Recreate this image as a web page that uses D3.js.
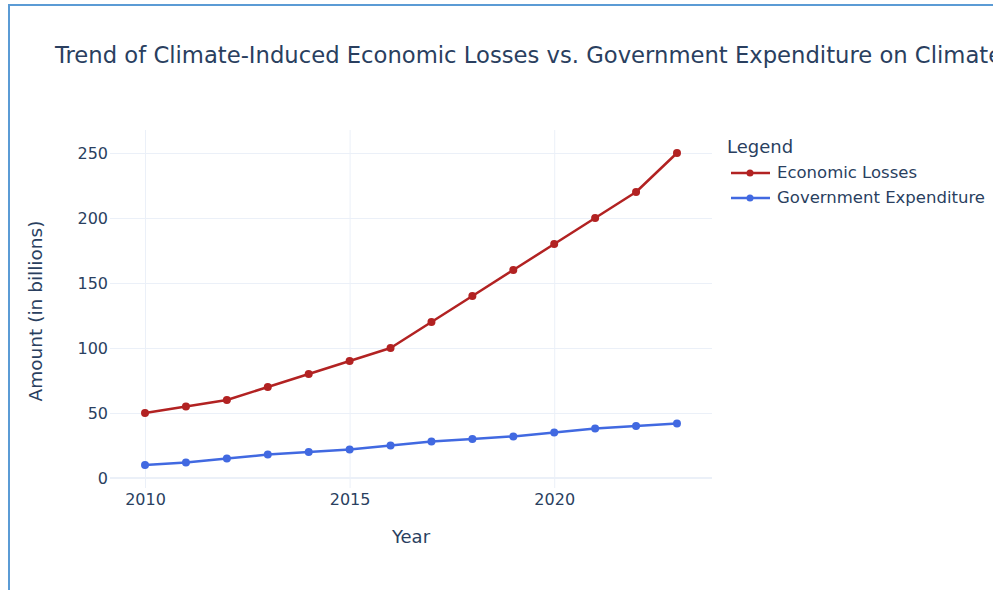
<!DOCTYPE html>
<html>
<head>
<meta charset="utf-8">
<script src="https://cdn.jsdelivr.net/npm/d3@7"></script>
<style>
  html, body { margin: 0; padding: 0; background: #fff; overflow: hidden; }
  svg { display: block; }
</style>
</head>
<body>
<svg id="chart" width="993" height="590"></svg>
<script>
// Annual figures, in billions
const years = [2010, 2011, 2012, 2013, 2014, 2015, 2016, 2017, 2018, 2019, 2020, 2021, 2022, 2023];
const economicLosses = [50, 55, 60, 70, 80, 90, 100, 120, 140, 160, 180, 200, 220, 250];
const governmentExpenditure = [10, 12, 15, 18, 20, 22, 25, 28, 30, 32, 35, 38, 40, 42];
const xTicks = [2010, 2015, 2020];
const yTicks = [0, 50, 100, 150, 200, 250];
const seriesNames = ["Economic Losses", "Government Expenditure"];
const seriesColors = ["#b22222", "#4169e1"];

const FONT = "'DejaVu Sans', Verdana, sans-serif";
const TEXT = "#2a3f5f";
const GRID = "#ebf0f8";

const svg = d3.select("#chart");
const plot = { left: 110, right: 712, top: 130, bottom: 488 };

// Frame around the figure
svg.append("rect")
  .attr("x", 9).attr("y", 5)
  .attr("width", 1200).attr("height", 800)
  .attr("fill", "none")
  .attr("stroke", "#5b9bd5")
  .attr("stroke-width", 2);

const x = d3.scaleLinear().domain([2009.144, 2023.856]).range([plot.left, plot.right]);
const y = d3.scaleLinear().domain([-7.7, 267.7]).range([plot.bottom, plot.top]);

// Gridlines
const xGrid = d3.axisBottom(x).tickValues(xTicks).tickSize(-(plot.bottom - plot.top)).tickFormat("");
svg.append("g").attr("transform", `translate(0,${plot.bottom})`).call(xGrid)
  .call(g => g.select(".domain").remove())
  .call(g => g.selectAll("line").attr("stroke", GRID).attr("stroke-width", 1));

const yGrid = d3.axisLeft(y).tickValues(yTicks.filter(v => v !== 0)).tickSize(-(plot.right - plot.left)).tickFormat("");
svg.append("g").attr("transform", `translate(${plot.left},0)`).call(yGrid)
  .call(g => g.select(".domain").remove())
  .call(g => g.selectAll("line").attr("stroke", GRID).attr("stroke-width", 1));

// Zero line
svg.append("line")
  .attr("x1", plot.left).attr("x2", plot.right)
  .attr("y1", y(0)).attr("y2", y(0))
  .attr("stroke", GRID).attr("stroke-width", 2);

// Tick labels
const xAxis = d3.axisBottom(x).tickValues(xTicks).tickSize(0).tickPadding(6).tickFormat(d3.format("d"));
svg.append("g").attr("transform", `translate(0,${plot.bottom})`).call(xAxis)
  .call(g => g.select(".domain").remove())
  .call(g => g.selectAll("text").attr("fill", TEXT).style("font-family", FONT).style("font-size", "16px"));

const yAxis = d3.axisLeft(y).tickValues(yTicks).tickSize(0).tickPadding(2).tickFormat(d3.format("d"));
svg.append("g").attr("transform", `translate(${plot.left},0)`).call(yAxis)
  .call(g => g.select(".domain").remove())
  .call(g => g.selectAll("text").attr("fill", TEXT).style("font-family", FONT).style("font-size", "16px"));

// Axis titles
svg.append("text")
  .attr("x", (plot.left + plot.right) / 2).attr("y", 543)
  .attr("text-anchor", "middle")
  .attr("fill", TEXT).style("font-family", FONT).style("font-size", "18px")
  .text("Year");

svg.append("text")
  .attr("transform", `translate(42,311) rotate(-90)`)
  .attr("text-anchor", "middle")
  .attr("fill", TEXT).style("font-family", FONT).style("font-size", "18.5px")
  .text("Amount (in billions)");

// Title
svg.append("text")
  .attr("x", 55).attr("y", 63)
  .attr("fill", TEXT).style("font-family", FONT).style("font-size", "22.7px")
  .text("Trend of Climate-Induced Economic Losses vs. Government Expenditure on Climate");

// Series
const series = [economicLosses, governmentExpenditure];
const line = d3.line().x((d, i) => x(years[i])).y(d => y(d));

series.forEach((vals, s) => {
  const g = svg.append("g");
  g.append("path")
    .datum(vals)
    .attr("d", line)
    .attr("fill", "none")
    .attr("stroke", seriesColors[s])
    .attr("stroke-width", 2.5)
    .attr("stroke-linejoin", "round");
  g.selectAll("circle")
    .data(vals)
    .join("circle")
    .attr("cx", (d, i) => x(years[i]))
    .attr("cy", d => y(d))
    .attr("r", 4)
    .attr("fill", seriesColors[s]);
});

// Legend
const legend = svg.append("g").attr("transform", "translate(727,0)");
legend.append("text")
  .attr("x", 0).attr("y", 153)
  .attr("fill", TEXT).style("font-family", FONT).style("font-size", "18px")
  .text("Legend");

seriesNames.forEach((name, i) => {
  const cy = 173 + i * 25;
  legend.append("line")
    .attr("x1", 4).attr("x2", 43).attr("y1", cy).attr("y2", cy)
    .attr("stroke", seriesColors[i]).attr("stroke-width", 2.5);
  legend.append("circle")
    .attr("cx", 23).attr("cy", cy).attr("r", 3.5)
    .attr("fill", seriesColors[i]);
  legend.append("text")
    .attr("x", 50).attr("y", cy + 5)
    .attr("fill", TEXT).style("font-family", FONT).style("font-size", "16.5px")
    .text(name);
});
</script>
</body>
</html>
